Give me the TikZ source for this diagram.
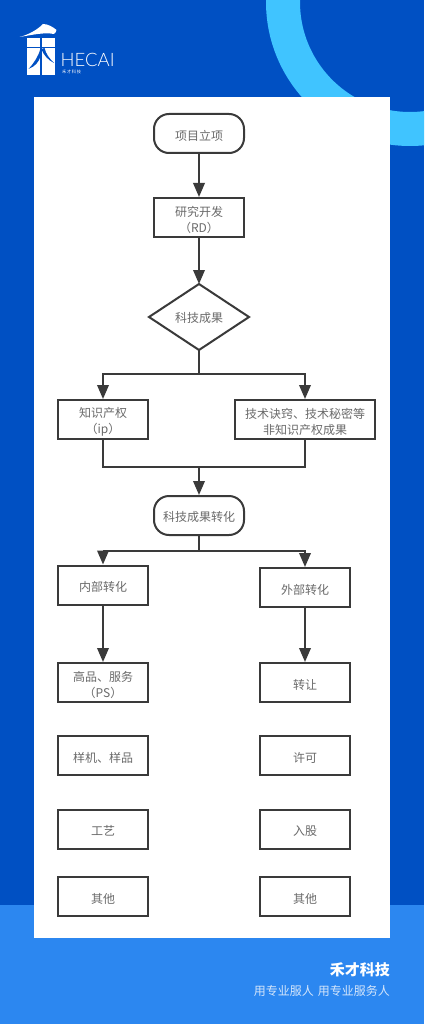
\documentclass[tikz,border=0pt]{standalone}
\usepackage{fontspec}
\setmainfont{Noto Sans CJK SC}
\newfontfamily\latin{Lato Light}
\usetikzlibrary{arrows.meta}
\definecolor{bgblue}{HTML}{0050C3}
\definecolor{bandblue}{HTML}{2C87F0}
\definecolor{ringblue}{HTML}{40C4FF}
\definecolor{inkline}{HTML}{3A3A3A}
\definecolor{inktext}{HTML}{6A6A6A}
\definecolor{subwhite}{HTML}{D5E6FB}
\tikzset{
  x=1pt,y=-1pt,
  box/.style={draw=inkline,line width=2pt,fill=white,minimum width=90pt,minimum height=39pt,inner sep=0pt,align=center,text=inktext,font=\fontsize{12}{16}\selectfont,anchor=center,execute at begin node={\rule{0pt}{14pt}}},
  bare/.style={draw=inkline,line width=2pt,fill=white,minimum width=90pt,minimum height=39pt,inner sep=0pt,anchor=center},
  twotext/.style={inner sep=0pt,align=center,text=inktext,font=\fontsize{12}{16}\selectfont,anchor=center,yshift=-2.5pt},
  pill/.style={box,rounded corners=15pt},
  dia/.style={draw=inkline,line width=2pt,fill=white,inner sep=0pt},
  flow/.style={draw=inkline,line width=2pt},
  arr/.style={flow,-{Triangle[length=14pt,width=11.5pt]}},
}
\begin{document}
\begin{tikzpicture}
\useasboundingbox (0,0) rectangle (424,1024);
\fill[bgblue] (0,0) rectangle (424,1024);
\fill[bandblue] (0,905) rectangle (424,1024);
\begin{scope}
\clip (0,0) rectangle (424,1024);
\draw[ringblue,line width=34pt] (410,2) circle[radius=127pt];
\end{scope}
\fill[white] (34,97) rectangle (390,938);
% logo
\fill[white] (19.5,37) .. controls (29,34.5) and (37,30) .. (43,24) .. controls (48,24) and (53,27) .. (56.5,30) .. controls (56,32) and (55.5,33) .. (54,34) .. controls (44,32) and (32,35) .. (19.5,37) -- cycle;
\fill[white] (27,38) rectangle (54.5,75);
\fill[bgblue] (26,46.8) rectangle (55.5,48.2);
\fill[bgblue] (40.2,38) rectangle (41.6,47);
\fill[bgblue] (40.2,48) rectangle (41.6,75.5);
\fill[bgblue] (40.4,49) .. controls (38,57) and (34,63) .. (28.5,69) .. controls (35,66.5) and (39,62) .. (40.6,56) -- cycle;
\fill[bgblue] (41.4,49) .. controls (43.5,55) and (48,60) .. (54,63) .. controls (49,58) and (46,54) .. (44.5,48) -- cycle;
\node[text=white,font=\latin\fontsize{18.5}{18.5}\selectfont,inner sep=0pt,anchor=west] (brand) at (60.5,60) {HECAI};
\node[text=white,font=\fontsize{4.2}{5}\selectfont,inner sep=0pt,anchor=west] (brandcn) at (62,72) {禾\,才\,科\,技};
% nodes
\node[pill] (start) at (199,133.5) {项目立项};
\node[bare] (rd) at (199,217.5) {};
\node[twotext] (rdt) at (rd.center) {研究开发\\（RD）};
\draw[dia] (199,284) coordinate (dt) -- (249,317) coordinate (dr) -- (199,350) coordinate (db) -- (149,317) coordinate (dl) -- cycle;
\node[text=inktext,font=\fontsize{12}{15}\selectfont,inner sep=0pt] (res) at (199,318) {科技成果};
\node[bare] (ip) at (103,419.5) {};
\node[twotext] (ipt) at (ip.center) {知识产权\\（ip）};
\node[bare,minimum width=140pt] (tech) at (305,419.5) {};
\node[twotext] (techt) at (tech.center) {技术诀窍、技术秘密等\\非知识产权成果};
\node[pill] (conv) at (199,515.5) {科技成果转化};
\node[box] (inner) at (103,585) {内部转化};
\node[box] (outer) at (305,587.5) {外部转化};
\node[bare] (ps) at (103,682.5) {};
\node[twotext] (pst) at (ps.center) {高品、服务\\（PS）};
\node[box] (proto) at (103,755.5) {样机、样品};
\node[box] (craft) at (103,829) {工艺};
\node[box] (otherl) at (103,896.5) {其他};
\node[box] (transfer) at (305,682.5) {转让};
\node[box] (lic) at (305,755.5) {许可};
\node[box] (equity) at (305,829) {入股};
\node[box] (otherr) at (305,896.5) {其他};
% connectors
\draw[arr] (start) -- (rd);
\draw[arr] (rd) -- (dt);
\coordinate (b1) at (199,374);
\coordinate (b2) at (199,467);
\coordinate (b3) at (199,551);
\draw[flow] (db) -- (b1);
\draw[arr] (b1) -| (ip.north);
\draw[arr] (b1) -| (tech.north);
\draw[flow] (ip.south) |- (b2);
\draw[flow] (tech.south) |- (b2);
\draw[arr] (b2) -- (conv);
\draw[flow] (conv) -- (b3);
\draw[arr] (b3) -| (inner.north);
\draw[arr] (b3) -| (outer.north);
\draw[arr] (inner) -- (ps);
\draw[arr] (outer) -- (transfer);
% footer
\node[text=white,font=\bfseries\fontsize{15}{17}\selectfont,anchor=east,inner sep=0pt] (co) at (390,970) {禾才科技};
\node[text=subwhite,font=\fontsize{12}{15}\selectfont,anchor=east,inner sep=0pt] (slogan) at (390,991) {用专业服人\hspace{4pt}用专业服务人};
\end{tikzpicture}
\end{document}
